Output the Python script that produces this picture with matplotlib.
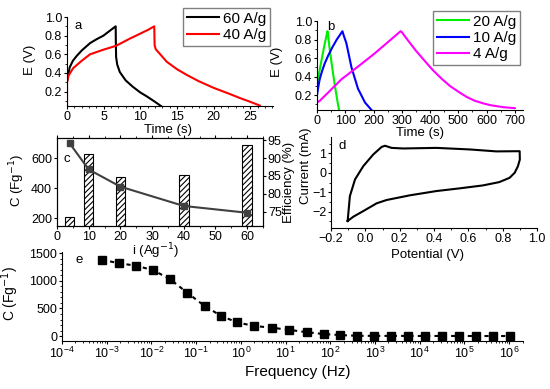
import numpy as np
import matplotlib
matplotlib.use("Agg")
import matplotlib.pyplot as plt
from matplotlib.ticker import MultipleLocator, LogLocator, NullFormatter

plt.rcParams['font.family'] = ['Liberation Sans', 'DejaVu Sans']
plt.rcParams['hatch.linewidth'] = 0.8
plt.rcParams['axes.linewidth'] = 0.8

# panel a - galvanostatic charge/discharge, high current
t60 = [0, 0, 0.1, 0.37, 0.8, 1.3, 2.0, 3.15, 4.0, 4.97, 5.8, 6.64, 6.66, 6.7, 6.85, 7.2, 8.0, 9.0, 10.0, 10.85, 12.0, 12.9]
e60 = [0.05, 0.3, 0.36, 0.46, 0.53, 0.58, 0.64, 0.72, 0.76, 0.80, 0.85, 0.90, 0.75, 0.57, 0.49, 0.41, 0.32, 0.25, 0.19, 0.15, 0.09, 0.04]
t40 = [0, 0, 0.2, 0.83, 2.0, 3.15, 5.0, 6.66, 8.5, 10.1, 11.0, 11.9, 11.95, 12.1, 13.6, 15.0, 16.3, 18.0, 20.0, 22.0, 23.6, 25.0, 26.3]
e40 = [0.05, 0.3, 0.37, 0.45, 0.53, 0.6, 0.65, 0.69, 0.765, 0.826, 0.86, 0.9, 0.7, 0.655, 0.52, 0.44, 0.38, 0.31, 0.24, 0.18, 0.13, 0.09, 0.05]

# panel b - lower current densities
t20 = [0, 0, 3, 8, 15.6, 25, 37, 39, 44, 51, 58, 65, 72, 78]
e20 = [0.15, 0.25, 0.34, 0.45, 0.57, 0.72, 0.89, 0.86, 0.72, 0.56, 0.41, 0.27, 0.14, 0.04]
t10 = [0, 0, 3, 9.4, 18, 27, 40, 55, 70, 90, 95, 104, 122, 145, 170, 193]
e10 = [0.13, 0.2, 0.26, 0.37, 0.46, 0.54, 0.63, 0.72, 0.8, 0.89, 0.84, 0.76, 0.5, 0.27, 0.12, 0.04]
t4 = [0, 0, 10, 40, 86, 150, 204, 250, 296, 300, 322, 350, 381, 410, 440, 470, 499, 530, 558, 590, 617, 660, 700]
e4 = [0.08, 0.12, 0.14, 0.23, 0.37, 0.52, 0.65, 0.77, 0.89, 0.88, 0.79, 0.68, 0.57, 0.47, 0.38, 0.3, 0.24, 0.18, 0.14, 0.11, 0.09, 0.07, 0.06]

# panel c - capacitance (bars) and efficiency (line) vs current density
i_dens = [4, 10, 20, 40, 60]
cap_c = [207, 627, 477, 489, 689]
eff = [94.1, 86.8, 82.0, 76.6, 74.7]

# panel d - cyclic voltammogram
cv_v = [-0.103, -0.09, -0.06, -0.012, 0.046, 0.095, 0.115, 0.153, 0.221, 0.414, 0.608, 0.763, 0.899,
        0.9, 0.889, 0.87, 0.84, 0.78, 0.685, 0.55, 0.414, 0.259, 0.124, 0.066, -0.012, -0.07, -0.103]
cv_i = [-2.48, -1.2, -0.34, 0.34, 0.94, 1.33, 1.39, 1.28, 1.25, 1.28, 1.2, 1.1, 1.11,
        0.68, 0.34, 0.0, -0.26, -0.48, -0.65, -0.8, -0.94, -1.16, -1.4, -1.57, -1.97, -2.26, -2.48]

# panel e - capacitance vs frequency
freq = [7.8e-4, 1.9e-3, 4.6e-3, 1.1e-2, 2.6e-2, 6.3e-2, 0.155, 0.36, 0.83, 2.0, 4.9, 12, 30, 71,
        166, 398, 977, 2290, 5500, 13200, 31000, 74100, 182000, 447000, 1.07e6]
cap_f = [1380, 1316, 1272, 1190, 1031, 785, 545, 367, 247, 184, 152, 114, 70, 38,
         19, 6, 5, 4, 4, 3, 3, 3, 2, 2, 2]

W, H = 550, 389
TICK = 9
LAB = 9.5
fig = plt.figure(figsize=(5.5, 3.89), dpi=100)


def rect(l, t, r, b):
    return [l / W, 1 - b / H, (r - l) / W, (b - t) / H]


def style(ax, box=False):
    if not box:
        ax.spines['top'].set_visible(False)
        ax.spines['right'].set_visible(False)
    ax.tick_params(which='major', direction='out', length=2.5, width=0.8, labelsize=TICK, pad=1)
    ax.tick_params(which='minor', direction='out', length=1.5, width=0.6)
    ax.set_facecolor('none')


leg_kw = dict(bbox_transform=fig.transFigure, loc='upper right', fancybox=False, edgecolor='0.5',
              fontsize=11, handlelength=2.1, labelspacing=0.15, borderpad=0.25,
              handletextpad=0.25, borderaxespad=0, framealpha=1)

# a
ax_a = fig.add_axes(rect(67, 17, 273, 106))
ax_a.plot(t60, e60, color='black', lw=1.5, label='60 A/g')
ax_a.plot(t40, e40, color='red', lw=1.5, label='40 A/g')
ax_a.set_xlim(0, 28.1)
ax_a.set_ylim(0.045, 1.0)
ax_a.set_yticks([0.2, 0.4, 0.6, 0.8, 1.0])
ax_a.set_xticks([0, 5, 10, 15, 20, 25])
ax_a.xaxis.set_minor_locator(MultipleLocator(1))
ax_a.yaxis.set_minor_locator(MultipleLocator(0.1))
style(ax_a)
ax_a.set_xlabel('Time (s)', fontsize=LAB)
ax_a.xaxis.set_label_coords(0.49, -0.2)
ax_a.set_ylabel('E (V)', fontsize=LAB)
ax_a.yaxis.set_label_coords(-0.15, 0.52)
ax_a.text(0.035, 0.97, 'a', transform=ax_a.transAxes, fontsize=LAB, va='top')
ax_a.legend(bbox_to_anchor=(270 / W, 1 - 8 / H), **leg_kw)

# b
ax_b = fig.add_axes(rect(317, 21, 523, 110))
ax_b.plot(t20, e20, color='#00ee00', lw=1.5, label='20 A/g')
ax_b.plot(t10, e10, color='#0000ff', lw=1.5, label='10 A/g')
ax_b.plot(t4, e4, color='#ff00ff', lw=1.5, label='4 A/g')
ax_b.set_xlim(0, 729)
ax_b.set_ylim(0.04, 1.0)
ax_b.set_yticks([0.2, 0.4, 0.6, 0.8, 1.0])
ax_b.set_xticks([0, 100, 200, 300, 400, 500, 600, 700])
ax_b.xaxis.set_minor_locator(MultipleLocator(50))
ax_b.yaxis.set_minor_locator(MultipleLocator(0.1))
style(ax_b)
ax_b.set_xlabel('Time (s)', fontsize=LAB)
ax_b.xaxis.set_label_coords(0.5, -0.19)
ax_b.set_ylabel('E (V)', fontsize=LAB)
ax_b.yaxis.set_label_coords(-0.165, 0.54)
ax_b.text(0.05, 1.0, 'b', transform=ax_b.transAxes, fontsize=LAB, va='top')
ax_b.legend(bbox_to_anchor=(520 / W, 1 - 11 / H), **leg_kw)

# c
ax_c = fig.add_axes(rect(57, 138, 263, 226))
ax_c.bar(i_dens, cap_c, width=3, bottom=0, color='white', edgecolor='black', hatch='//////', lw=0.8)
ax_c.set_xlim(0, 65)
ax_c.set_ylim(149, 735)
ax_c.set_yticks([200, 400, 600])
ax_c.set_xticks([0, 10, 20, 30, 40, 50, 60])
ax_c.xaxis.set_minor_locator(MultipleLocator(5))
style(ax_c, box=True)
ax_c.tick_params(axis='x', which='both', top=True)
ax_c.set_xlabel('i (Ag$^{-1}$)', fontsize=LAB)
ax_c.xaxis.set_label_coords(0.476, -0.175)
ax_c.set_ylabel('C (Fg$^{-1}$)', fontsize=LAB)
ax_c.yaxis.set_label_coords(-0.145, 0.52)
ax_c.text(0.03, 0.76, 'c', transform=ax_c.transAxes, fontsize=LAB, va='center')
ax_c2 = ax_c.twinx()
ax_c2.plot(i_dens, eff, color='#404040', lw=1.5, marker='s', ms=5)
ax_c2.set_ylim(71.0, 95.6)
ax_c2.set_yticks([75, 80, 85, 90, 95])
ax_c2.tick_params(which='major', direction='out', length=2.5, width=0.8, labelsize=TICK, pad=1)
ax_c2.set_ylabel('Efficiency (%)', fontsize=LAB)
ax_c2.yaxis.set_label_coords(1.095, 0.5)

# d
ax_d = fig.add_axes(rect(331, 137, 537, 228))
ax_d.plot(cv_v, cv_i, color='black', lw=1.5)
ax_d.set_xlim(-0.2, 1.0)
ax_d.set_ylim(-2.84, 1.84)
ax_d.set_xticks([-0.2, 0.0, 0.2, 0.4, 0.6, 0.8, 1.0])
ax_d.set_yticks([-2, -1, 0, 1])
ax_d.xaxis.set_minor_locator(MultipleLocator(0.1))
ax_d.yaxis.set_minor_locator(MultipleLocator(0.5))
style(ax_d)
ax_d.set_xlabel('Potential (V)', fontsize=LAB)
ax_d.xaxis.set_label_coords(0.47, -0.235)
ax_d.set_ylabel('Current (mA)', fontsize=LAB)
ax_d.yaxis.set_label_coords(-0.09, 0.68)
ax_d.text(0.035, 0.97, 'd', transform=ax_d.transAxes, fontsize=LAB, va='top')

# e
ax_e = fig.add_axes(rect(62, 252, 523, 341))
ax_e.plot(freq, cap_f, color='black', lw=1.5, ls=(0, (2, 2)), marker='s', ms=6)
ax_e.set_xscale('log')
ax_e.set_xlim(1e-4, 2.05e6)
ax_e.set_ylim(-88, 1520)
ax_e.set_yticks([0, 500, 1000, 1500])
ax_e.yaxis.set_minor_locator(MultipleLocator(100))
ax_e.xaxis.set_major_locator(LogLocator(base=10, numticks=20))
ax_e.xaxis.set_minor_locator(LogLocator(base=10, subs=np.arange(2, 10), numticks=20))
ax_e.xaxis.set_minor_formatter(NullFormatter())
style(ax_e)
ax_e.set_xlabel('Frequency (Hz)', fontsize=11)
ax_e.xaxis.set_label_coords(0.512, -0.27)
ax_e.set_ylabel('C (Fg$^{-1}$)', fontsize=10)
ax_e.yaxis.set_label_coords(-0.088, 0.54)
ax_e.text(0.03, 0.98, 'e', transform=ax_e.transAxes, fontsize=LAB, va='top')

fig.savefig('out.png', dpi=100)
